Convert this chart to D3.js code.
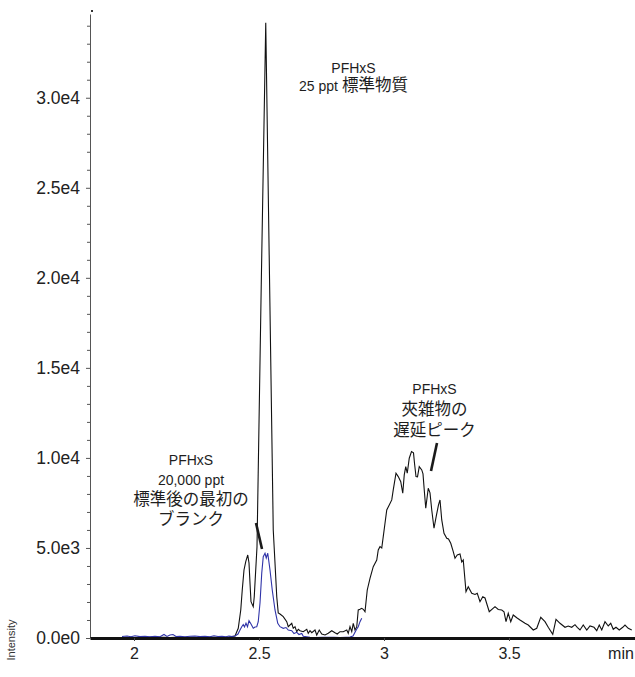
<!DOCTYPE html>
<html>
<head>
<meta charset="utf-8">
<script src="https://cdn.jsdelivr.net/npm/d3@7"></script>
<style>
  html, body { margin: 0; padding: 0; background: #fff; }
  svg { display: block; }
</style>
</head>
<body>
<svg id="chart" width="635" height="677"></svg>
<script>
// PFHxS 25 ppt standard (black trace): retention time (min) and intensity
const standardTime = [
  1.952, 1.976, 2.000, 2.024, 2.048, 2.072, 2.096, 2.120, 2.144, 2.168, 2.192, 2.216, 2.240, 2.264,
  2.288, 2.312, 2.336, 2.360, 2.380, 2.392, 2.404, 2.417, 2.427, 2.433, 2.440, 2.447, 2.455, 2.460,
  2.464, 2.468, 2.477, 2.481, 2.492, 2.509, 2.527, 2.557, 2.564, 2.571, 2.577, 2.584, 2.597, 2.611,
  2.617, 2.631, 2.637, 2.644, 2.651, 2.657, 2.664, 2.677, 2.691, 2.697, 2.704, 2.711, 2.724, 2.731,
  2.741, 2.751, 2.764, 2.777, 2.791, 2.804, 2.813, 2.824, 2.837, 2.851, 2.857, 2.864, 2.871, 2.877,
  2.884, 2.891, 2.897, 2.904, 2.911, 2.917, 2.924, 2.933, 2.944, 2.957, 2.971, 2.977, 2.984, 2.991,
  2.997, 3.004, 3.011, 3.021, 3.031, 3.037, 3.048, 3.057, 3.067, 3.075, 3.081, 3.087, 3.093, 3.101,
  3.110, 3.118, 3.122, 3.128, 3.134, 3.141, 3.151, 3.156, 3.161, 3.167, 3.177, 3.184, 3.191, 3.200,
  3.210, 3.218, 3.224, 3.231, 3.240, 3.251, 3.258, 3.267, 3.277, 3.284, 3.293, 3.304, 3.311, 3.317,
  3.328, 3.337, 3.351, 3.364, 3.373, 3.384, 3.395, 3.404, 3.421, 3.444, 3.457, 3.471, 3.480, 3.488,
  3.497, 3.507, 3.517, 3.531, 3.544, 3.564, 3.577, 3.597, 3.611, 3.627, 3.644, 3.657, 3.675, 3.688,
  3.704, 3.724, 3.737, 3.751, 3.764, 3.773, 3.784, 3.797, 3.811, 3.824, 3.840, 3.851, 3.861, 3.871,
  3.884, 3.897, 3.907, 3.917, 3.928, 3.941, 3.955, 3.964, 3.977, 3.991
];
const standardIntensity = [
  28, 44, 22, 39, 28, 50, 33, 44, 28, 39, 22, 44, 33, 28,
  44, 33, 39, 28, 56, 83, 111, 539, 1556, 2667, 3778, 4239, 4611, 4167,
  3056, 2017, 1739, 2294, 5072, 19611, 34167, 6000, 4167, 2294, 1389, 1333, 1183, 906,
  628, 817, 539, 628, 350, 483, 406, 350, 483, 261, 406, 294, 444, 167,
  444, 222, 167, 261, 406, 294, 222, 350, 350, 444, 261, 628, 350, 817,
  444, 628, 1556, 1594, 1650, 1594, 1461, 2667, 3317, 3961, 4333, 4889, 5072, 5000,
  5628, 6372, 7111, 7389, 7667, 8222, 9150, 8961, 8683, 8039, 9056, 9517, 9150, 9983,
  10350, 10278, 9706, 8961, 8944, 9517, 9333, 9111, 8222, 7206, 8317, 8056, 7111, 6094,
  6833, 7389, 7667, 6556, 5817, 5539, 5500, 5261, 4794, 4428, 4611, 4667, 4222, 4333,
  2572, 2850, 2483, 2417, 2483, 2017, 2294, 2222, 1461, 1739, 1583, 1556, 1461, 906,
  1372, 906, 1278, 1128, 1000, 817, 722, 444, 539, 1150, 906, 594, 206, 1039,
  817, 594, 667, 594, 739, 594, 444, 722, 444, 667, 594, 406, 722, 444,
  906, 667, 817, 483, 594, 444, 594, 722, 539, 444
];

// Blank injected after the 20,000 ppt standard (blue trace)
const blankTime = [
  1.952, 1.972, 1.988, 2.004, 2.024, 2.044, 2.064, 2.084, 2.104, 2.120, 2.132, 2.144, 2.156, 2.168,
  2.184, 2.204, 2.224, 2.244, 2.264, 2.284, 2.304, 2.320, 2.336, 2.352, 2.368, 2.380, 2.392, 2.404,
  2.416, 2.424, 2.431, 2.437, 2.442, 2.448, 2.454, 2.460, 2.468, 2.477, 2.484, 2.491, 2.497, 2.504,
  2.511, 2.517, 2.524, 2.529, 2.535, 2.544, 2.553, 2.564, 2.575, 2.584, 2.597, 2.608, 2.617, 2.631,
  2.640, 2.651, 2.660, 2.671, 2.677, 2.691, 2.704, 2.728, 2.752, 2.776, 2.800, 2.824, 2.848, 2.864,
  2.876, 2.891, 2.897, 2.904, 2.911
];
const blankIntensity = [
  83, 111, 67, 122, 78, 100, 67, 94, 72, 194, 89, 167, 194, 83,
  100, 67, 94, 111, 78, 94, 67, 128, 83, 100, 72, 111, 83, 111,
  222, 444, 628, 750, 611, 817, 628, 961, 778, 539, 611, 628, 906, 1944,
  3611, 4517, 4706, 4444, 4706, 3778, 2667, 1556, 817, 628, 539, 583, 444, 406,
  250, 317, 194, 250, 94, 72, 44, 28, 44, 33, 39, 28, 44, 56,
  111, 500, 628, 906, 1094
];

// Axis ticks
const xTickValues = [2, 2.5, 3, 3.5];
const xTickLabels = ["2", "2.5", "3", "3.5"];
const yTickValues = [0, 5000, 10000, 15000, 20000, 25000, 30000];
const yTickLabels = ["0.0e0", "5.0e3", "1.0e4", "1.5e4", "2.0e4", "2.5e4", "3.0e4"];
const yMinorTickValues = d3.range(1000, 34001, 1000).filter(v => v % 5000 !== 0);

// Peak annotations: text lines, block centre (time, intensity) and pointer segments
const annotations = [
  { t: 2.878, v: 31138, lines: ["PFHxS", "25 ppt 標準物質"], gap: 17.5 },
  { t: 2.228, v: 8232, lines: ["PFHxS", "20,000 ppt", "標準後の最初の", "ブランク"], gap: 20 },
  { t: 3.202, v: 12678, lines: ["PFHxS", "夾雑物の", "遅延ピーク"], gap: 21 }
];
const pointers = [
  { t1: 2.488, v1: 6389, t2: 2.512, v2: 4944 },
  { t1: 3.212, v1: 10833, t2: 3.188, v2: 9278 }
];

const plot = { left: 90, right: 635, top: 14, bottom: 638 };

const x = d3.scaleLinear().domain([1.824, 4.004]).range([plot.left, plot.right]);
const y = d3.scaleLinear().domain([0, 34650]).range([plot.bottom, plot.top]);

const svg = d3.select("#chart");
const latinFont = "'Liberation Sans', Arial, Helvetica, sans-serif";
const cjkFont = "'Noto Sans CJK JP', 'Noto Sans CJK SC', sans-serif";

// Minor y ticks
svg.append("g")
  .attr("transform", `translate(${plot.left},0)`)
  .call(d3.axisLeft(y).tickValues(yMinorTickValues).tickSize(3).tickSizeOuter(0).tickFormat(""))
  .call(g => g.select(".domain").remove())
  .call(g => g.selectAll(".tick line").attr("stroke", "#555"));

// Major y axis with labels
svg.append("g")
  .attr("transform", `translate(${plot.left},0)`)
  .call(d3.axisLeft(y).tickValues(yTickValues).tickSize(4).tickSizeOuter(0).tickPadding(6)
    .tickFormat((d, i) => yTickLabels[i]))
  .call(g => g.select(".domain").attr("stroke", "#555").attr("stroke-width", 1))
  .call(g => g.selectAll(".tick line").attr("stroke", "#555"))
  .call(g => g.selectAll(".tick text")
    .attr("font-family", latinFont).attr("font-size", 17.5).attr("fill", "#222"));

// Small mark above the top of the y axis
svg.append("rect").attr("x", plot.left + 1).attr("y", plot.top - 4).attr("width", 2).attr("height", 2).attr("fill", "#333");

// Traces
const line = d3.line().x(d => x(d[0])).y(d => y(d[1]));
const standardPoints = standardTime.map((t, i) => [t, standardIntensity[i]]);
const blankPoints = blankTime.map((t, i) => [t, blankIntensity[i]]);

svg.append("path").datum(standardPoints)
  .attr("d", line).attr("fill", "none").attr("stroke", "#111").attr("stroke-width", 1.1);
svg.append("path").datum(blankPoints)
  .attr("d", line).attr("fill", "none").attr("stroke", "#2f33a8").attr("stroke-width", 1.1);

// X axis (thick baseline)
svg.append("g")
  .attr("transform", `translate(0,${plot.bottom})`)
  .call(d3.axisBottom(x).tickValues(xTickValues).tickSize(3).tickSizeOuter(0).tickPadding(7)
    .tickFormat((d, i) => xTickLabels[i]))
  .call(g => g.select(".domain").attr("stroke", "#111").attr("stroke-width", 3))
  .call(g => g.selectAll(".tick line").attr("stroke", "#444"))
  .call(g => g.selectAll(".tick text")
    .attr("font-family", latinFont).attr("font-size", 16).attr("fill", "#222"));

svg.append("text")
  .attr("x", 621).attr("y", plot.bottom + 10).attr("dy", "0.71em")
  .attr("text-anchor", "middle")
  .attr("font-family", latinFont).attr("font-size", 16).attr("fill", "#222")
  .text("min");

// Y axis title
svg.append("text")
  .attr("transform", `translate(15,640) rotate(-90)`)
  .attr("text-anchor", "middle")
  .attr("font-family", latinFont).attr("font-size", 11).attr("fill", "#333")
  .text("Intensity");

// Annotation text: one text block per label; Latin runs in Liberation Sans,
// Japanese runs in Noto Sans CJK
const isCJK = ch => /[\u3000-\u30ff\u3400-\u9fff\uff00-\uffef]/.test(ch);
function runs(str) {
  const out = [];
  for (const ch of str) {
    const c = isCJK(ch);
    if (out.length && out[out.length - 1].cjk === c) out[out.length - 1].s += ch;
    else out.push({ s: ch, cjk: c });
  }
  return out;
}

annotations.forEach(a => {
  const cx = x(a.t), cy = y(a.v);
  const n = a.lines.length;
  const txt = svg.append("text")
    .attr("text-anchor", "middle").attr("fill", "#1e1e1e")
    .attr("font-family", latinFont).attr("font-size", 14);
  a.lines.forEach((ln, i) => {
    const ty = cy + (i - (n - 1) / 2) * a.gap + 5;
    const row = txt.append("tspan").attr("x", cx).attr("y", ty);
    runs(ln).forEach(r => {
      row.append("tspan")
        .attr("font-family", r.cjk ? cjkFont : latinFont)
        .attr("font-size", r.cjk ? 16.5 : 14)
        .text(r.s);
    });
  });
});

pointers.forEach(p => {
  svg.append("line")
    .attr("x1", x(p.t1)).attr("y1", y(p.v1))
    .attr("x2", x(p.t2)).attr("y2", y(p.v2))
    .attr("stroke", "#1a1a1a").attr("stroke-width", 2.6);
});
</script>
</body>
</html>
